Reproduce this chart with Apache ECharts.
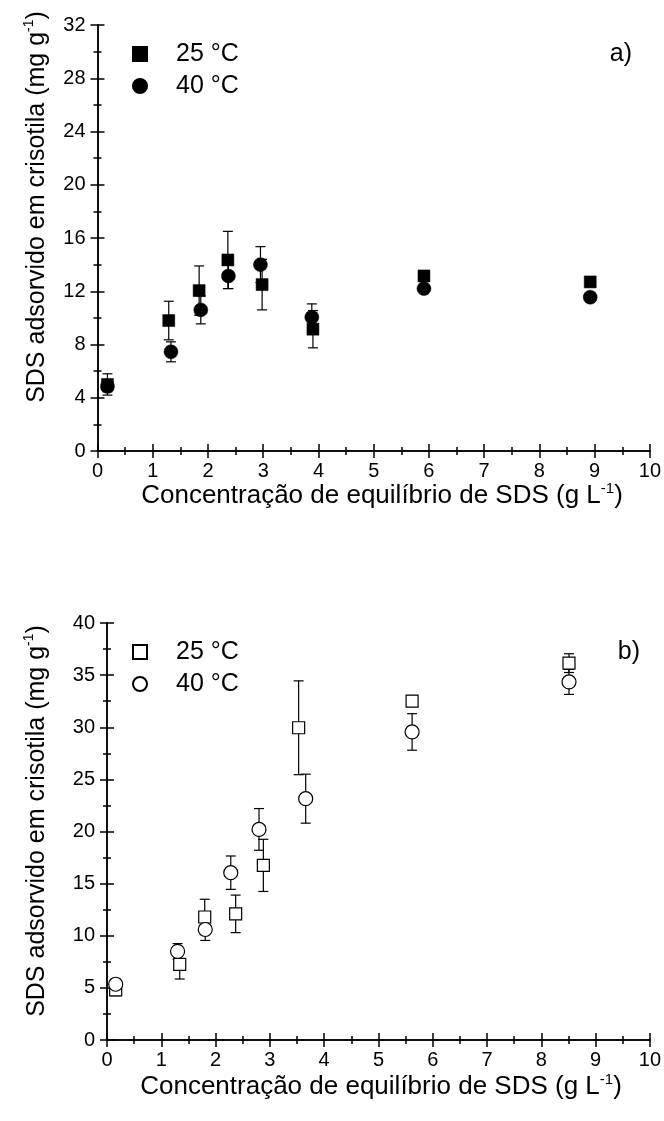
<!DOCTYPE html>
<html><head><meta charset="utf-8">
<script src="https://cdn.jsdelivr.net/npm/echarts@6/dist/echarts.min.js"></script>
<style>html,body{margin:0;padding:0;background:#fff}#c{width:664px;height:1121px}</style>
</head><body><div id="c"></div>
<script>
// ---- Data: panel a) ----
const a25x = [0.18, 1.29, 1.84, 2.36, 2.98, 3.90, 5.91, 8.92];
const a25y = [5.0, 9.8, 12.05, 14.35, 12.5, 9.15, 13.15, 12.7];
const a25e = [0.8, 1.45, 1.85, 2.15, 1.9, 1.4, 0.3, 0.3];
const a40x = [0.18, 1.33, 1.87, 2.37, 2.95, 3.88, 5.91, 8.92];
const a40y = [4.85, 7.45, 10.6, 13.15, 14.0, 10.05, 12.2, 11.55];
const a40e = [0.4, 0.75, 1.05, 0.95, 1.35, 1.0, 0.3, 0.3];
// ---- Data: panel b) ----
const b25x = [0.16, 1.34, 1.80, 2.37, 2.88, 3.53, 5.62, 8.51];
const b25y = [4.8, 7.25, 11.8, 12.1, 16.75, 29.95, 32.5, 36.15];
const b25e = [0.55, 1.4, 1.7, 1.8, 2.5, 4.5, 0.5, 0.9];
const b40x = [0.16, 1.30, 1.81, 2.28, 2.80, 3.66, 5.62, 8.51];
const b40y = [5.35, 8.5, 10.6, 16.05, 20.2, 23.15, 29.55, 34.35];
const b40e = [0.5, 0.75, 1.05, 1.6, 2.0, 2.35, 1.75, 1.2];
// ---- Labels / axes ----
const legendA = ['25 °C', '40 °C'];
const legendB = ['25\u00a0°C', '40\u00a0°C'];
const panelLabels = ['a)', 'b)'];
const xTitle = 'Concentração de equilíbrio de SDS (g L';
const yTitle = 'SDS adsorvido em crisotila (mg g';
const supText = '-1';
const xRange = [0, 10, 1];
const yRangeA = [0, 32, 4];
const yRangeB = [0, 40, 5];

const FF = '"Liberation Sans", Arial, sans-serif';
const zip = (xs, ys) => xs.map((x, i) => [x, ys[i]]);
const zip3 = (xs, ys, es) => xs.map((x, i) => [x, ys[i], es[i]]);

const axLine = {lineStyle: {color: '#000', width: 1.5}};
function xAx(grid, pos, withLabel) {
  return {
    type: 'value', gridIndex: grid, position: pos, min: xRange[0], max: xRange[1], interval: xRange[2],
    axisLine: axLine, splitLine: {show: false},
    axisTick: {show: true, inside: false, length: 7, lineStyle: {color: '#000', width: 1.5}},
    minorTick: {show: true, splitNumber: 2, length: 4, lineStyle: {color: '#000', width: 1.5}},
    axisLabel: {show: withLabel, fontSize: 20, color: '#000', fontFamily: FF, margin: 10}
  };
}
function yAx(grid, pos, r, withLabel) {
  return {
    type: 'value', gridIndex: grid, position: pos, min: r[0], max: r[1], interval: r[2],
    axisLine: axLine, splitLine: {show: false},
    axisTick: {show: true, inside: false, length: 7, lineStyle: {color: '#000', width: 1.5}},
    minorTick: {show: true, splitNumber: 2, length: 4, lineStyle: {color: '#000', width: 1.5}},
    axisLabel: {show: withLabel, fontSize: 20, color: '#000', fontFamily: FF, margin: 12}
  };
}
function errSeries(name, xs, ys, es, xi, yi) {
  return {
    type: 'custom', name: name + ' err', xAxisIndex: xi, yAxisIndex: yi, z: 1, silent: true,
    data: zip3(xs, ys, es),
    renderItem: function (params, api) {
      const x = api.value(0), y = api.value(1), e = api.value(2);
      const t = api.coord([x, y + e]), b = api.coord([x, y - e]);
      const hw = 5;
      const st = {stroke: '#000', lineWidth: 1.2};
      return {type: 'group', children: [
        {type: 'line', shape: {x1: t[0], y1: t[1], x2: b[0], y2: b[1]}, style: st},
        {type: 'line', shape: {x1: t[0] - hw, y1: t[1], x2: t[0] + hw, y2: t[1]}, style: st},
        {type: 'line', shape: {x1: b[0] - hw, y1: b[1], x2: b[0] + hw, y2: b[1]}, style: st}
      ]};
    }
  };
}
function scat(name, xs, ys, sym, size, filled, xi, yi) {
  return {
    type: 'scatter', name: name, xAxisIndex: xi, yAxisIndex: yi, z: 3,
    symbol: sym, symbolSize: size, data: zip(xs, ys),
    itemStyle: filled ? {color: '#000', borderColor: '#000', borderWidth: 0.5, opacity: 1}
                      : {color: '#fff', borderColor: '#000', borderWidth: 1.2, opacity: 1},
    emphasis: {disabled: true}
  };
}
const legendText = {fontSize: 25, color: '#000', fontFamily: FF, lineHeight: 26, padding: [0, 0, 0, 24]};
function titleGraphic(text, x, y, rot, fs) {
  return {
    type: 'text', x: x, y: y, rotation: rot,
    style: {
      text: '{t|' + text + '}{s|' + supText + '}{t|)}',
      align: 'center', verticalAlign: 'middle',
      rich: {
        t: {fontSize: fs, fill: '#000', fontFamily: FF, lineHeight: fs + 4},
        s: {fontSize: Math.round(fs * 0.58), fill: '#000', fontFamily: FF, verticalAlign: 'top', lineHeight: 15}
      }
    }
  };
}

const chart = echarts.init(document.getElementById('c'), null, {renderer: 'canvas'});
chart.setOption({
  animation: false,
  backgroundColor: '#fff',
  grid: [
    {left: 97.5, top: 25, width: 552.5, height: 426},
    {left: 107, top: 623, width: 546, height: 417}
  ],
  xAxis: [xAx(0, 'bottom', true), xAx(0, 'top', false), xAx(1, 'bottom', true), xAx(1, 'top', false)],
  yAxis: [yAx(0, 'left', yRangeA, true), yAx(0, 'right', yRangeA, false),
          yAx(1, 'left', yRangeB, true), yAx(1, 'right', yRangeB, false)],
  legend: [
    {left: 132, top: 41, orient: 'vertical', padding: 0, itemWidth: 14, itemHeight: 14, itemGap: 6,
     selectedMode: false, textStyle: legendText, data: legendA},
    {left: 132, top: 639, orient: 'vertical', padding: 0, itemWidth: 14, itemHeight: 14, itemGap: 6,
     selectedMode: false, textStyle: legendText, data: legendB}
  ],
  graphic: [
    {type: 'text', x: 632, y: 54, style: {text: panelLabels[0], fontSize: 25, fill: '#000', fontFamily: FF, align: 'right', verticalAlign: 'middle'}},
    {type: 'text', x: 640, y: 652, style: {text: panelLabels[1], fontSize: 25, fill: '#000', fontFamily: FF, align: 'right', verticalAlign: 'middle'}},
    titleGraphic(yTitle, 37, 207, Math.PI / 2, 25),
    titleGraphic(yTitle, 37, 821, Math.PI / 2, 25),
    titleGraphic(xTitle, 382, 496, 0, 26),
    titleGraphic(xTitle, 381, 1087, 0, 26)
  ],
  series: [
    errSeries('a25', a25x, a25y, a25e, 0, 0),
    errSeries('a40', a40x, a40y, a40e, 0, 0),
    scat(legendA[0], a25x, a25y, 'rect', 12, true, 0, 0),
    scat(legendA[1], a40x, a40y, 'circle', 14, true, 0, 0),
    errSeries('b25', b25x, b25y, b25e, 2, 2),
    errSeries('b40', b40x, b40y, b40e, 2, 2),
    scat(legendB[0], b25x, b25y, 'rect', 12, false, 2, 2),
    scat(legendB[1], b40x, b40y, 'circle', 14, false, 2, 2)
  ]
});
</script></body></html>
